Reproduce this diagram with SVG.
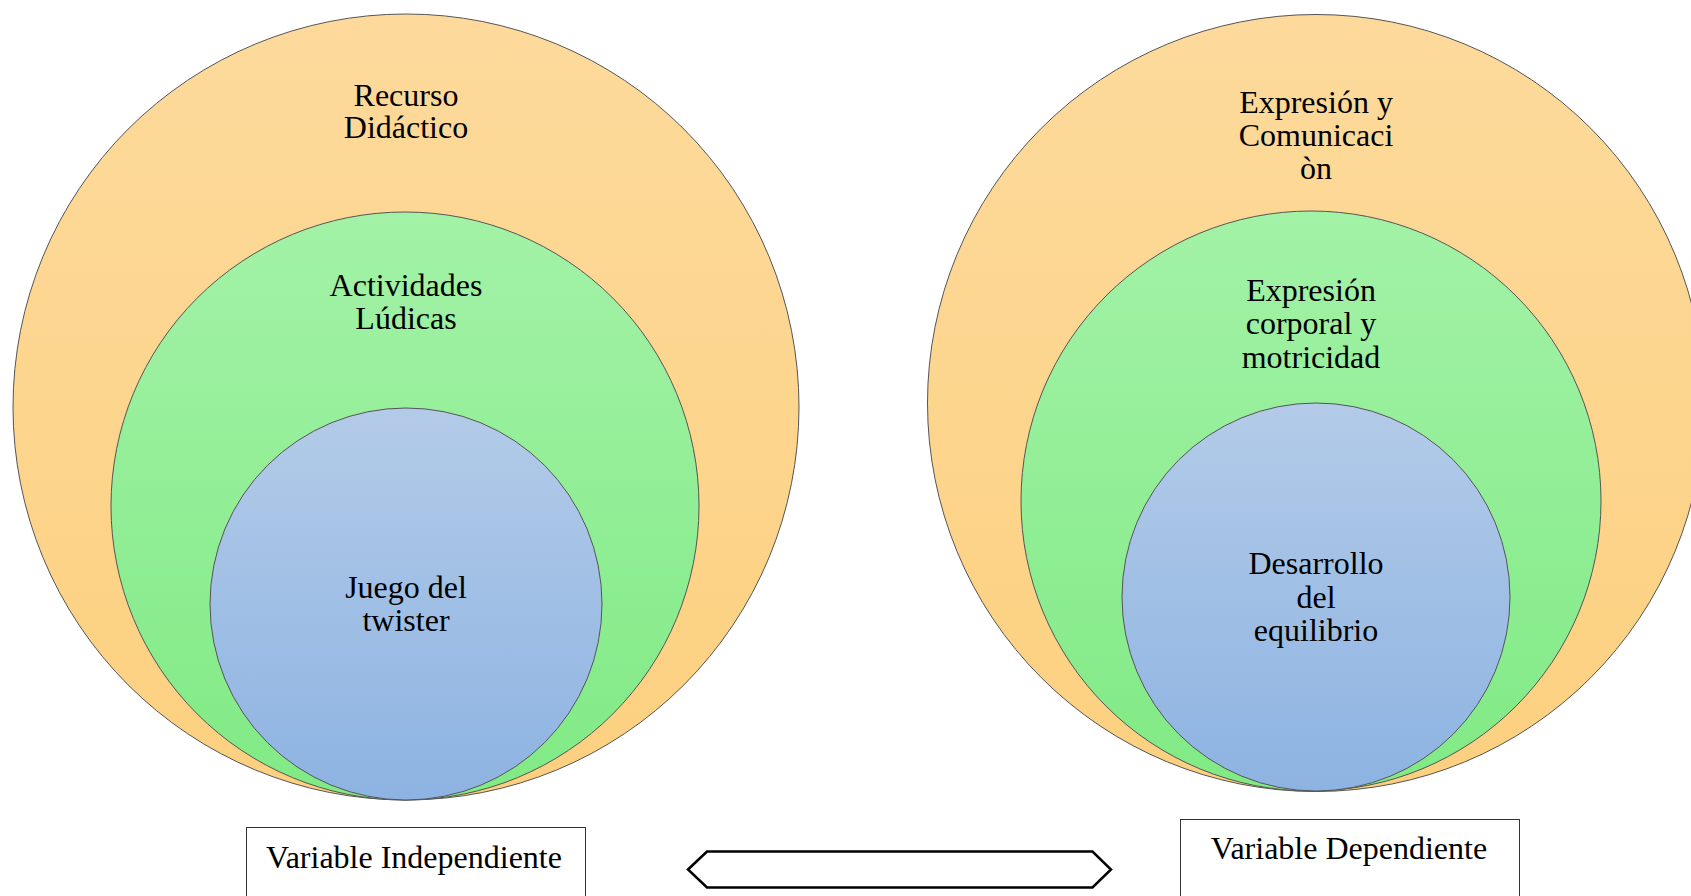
<svg xmlns="http://www.w3.org/2000/svg" width="1691" height="896" viewBox="0 0 1691 896">
<defs>
<linearGradient id="gOr" x1="0" y1="0" x2="0" y2="1">
<stop offset="0" stop-color="#FDDA9C"/><stop offset="1" stop-color="#FCD07F"/>
</linearGradient>
<linearGradient id="gGr" x1="0" y1="0" x2="0" y2="1">
<stop offset="0" stop-color="#A3F2A7"/><stop offset="1" stop-color="#80EA84"/>
</linearGradient>
<linearGradient id="gBl" x1="0" y1="0" x2="0" y2="1">
<stop offset="0" stop-color="#B3CBE8"/><stop offset="1" stop-color="#8DB3E2"/>
</linearGradient>
</defs>
<style>
.c{stroke:#555;stroke-width:1}
.or{fill:url(#gOr)}
.gr{fill:url(#gGr)}
.bl{fill:url(#gBl)}
text{font-family:"Liberation Serif","Times New Roman",serif;font-size:32px;fill:#000;text-anchor:middle}
.box{fill:#fff;stroke:#333;stroke-width:1}
</style>
<g id="left-outer">
<circle class="c or" cx="406" cy="407" r="393"/>
<text x="406" y="106">Recurso</text>
<text x="406" y="138">Didáctico</text>
</g>
<g id="left-middle">
<circle class="c gr" cx="405" cy="506" r="294"/>
<text x="406" y="296">Actividades</text>
<text x="406" y="329">Lúdicas</text>
</g>
<g id="left-inner">
<circle class="c bl" cx="406" cy="604" r="196"/>
<text x="406" y="598">Juego del</text>
<text x="406" y="631">twister</text>
</g>
<g id="right-outer">
<circle class="c or" cx="1316" cy="403" r="388.5"/>
<text x="1316" y="113">Expresión y</text>
<text x="1316" y="146">Comunicaci</text>
<text x="1316" y="179">òn</text>
</g>
<g id="right-middle">
<circle class="c gr" cx="1311" cy="501" r="290"/>
<text x="1311" y="301">Expresión</text>
<text x="1311" y="334">corporal y</text>
<text x="1311" y="368">motricidad</text>
</g>
<g id="right-inner">
<circle class="c bl" cx="1316" cy="597" r="194"/>
<text x="1316" y="574">Desarrollo</text>
<text x="1316" y="608">del</text>
<text x="1316" y="641">equilibrio</text>
</g>
<g id="box-independiente">
<rect class="box" x="246.5" y="827.5" width="339" height="80"/>
<text x="414" y="868">Variable Independiente</text>
</g>
<g id="box-dependiente">
<rect class="box" x="1180.5" y="819.5" width="339" height="90"/>
<text x="1349" y="859">Variable Dependiente</text>
</g>
<g id="connectors">
<polygon points="688,869.5 707,851.5 1092.5,851.5 1111,869.5 1092.5,887.5 707,887.5" fill="#fff" stroke="#000" stroke-width="2.5" stroke-linejoin="miter"/>
</g>
</svg>
